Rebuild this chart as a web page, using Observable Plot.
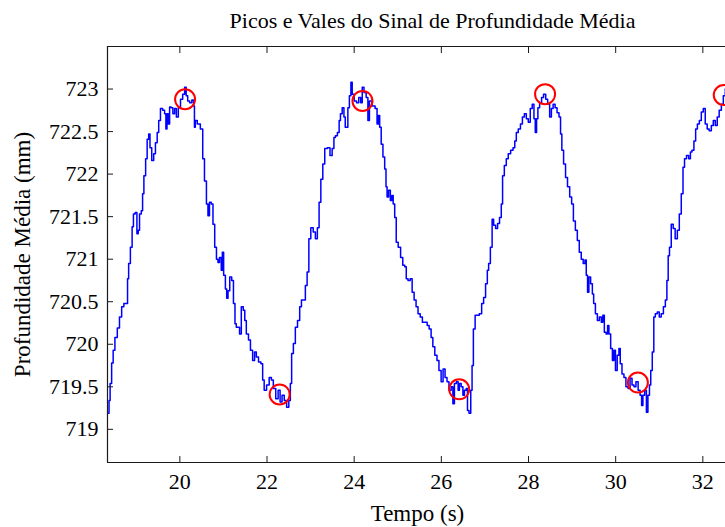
<!DOCTYPE html>
<html>
<head>
<meta charset="utf-8">
<script src="https://cdn.jsdelivr.net/npm/d3@7"></script>
<script src="https://cdn.jsdelivr.net/npm/@observablehq/plot@0.6"></script>
<style>
  html, body { margin: 0; padding: 0; background: #fff; overflow: hidden; }
  svg { display: block; }
</style>
</head>
<body>
<div id="chart"></div>
<script>
// ---- Data ----
const titulo = "Picos e Vales do Sinal de Profundidade Média";
const rotuloX = "Tempo (s)";
const rotuloY = "Profundidade Média (mm)";

const limitesX = [18.34, 32.52];
const limitesY = [718.61, 723.50];
const ticksX = [20, 22, 24, 26, 28, 30, 32];
const ticksY = [719, 719.5, 720, 720.5, 721, 721.5, 722, 722.5, 723];

// Tempo (s)
const tempo = [
  18.36, 18.39, 18.41, 18.46, 18.48, 18.54, 18.59, 18.64, 18.69, 18.74,
  18.79, 18.81, 18.84, 18.89, 18.92, 18.95, 19.00, 19.03, 19.06, 19.09,
  19.14, 19.15, 19.20, 19.23, 19.27, 19.30, 19.33, 19.38, 19.42, 19.46,
  19.50, 19.53, 19.58, 19.63, 19.67, 19.69, 19.72, 19.75, 19.78, 19.82,
  19.86, 19.90, 19.94, 19.99, 20.04, 20.09, 20.13, 20.16, 20.20, 20.25,
  20.30, 20.33, 20.34, 20.37, 20.43, 20.51, 20.54, 20.59, 20.63, 20.66,
  20.70, 20.74, 20.78, 20.82, 20.86, 20.89, 20.93, 20.97, 20.98, 21.03,
  21.06, 21.09, 21.12, 21.17, 21.21, 21.25, 21.28, 21.31, 21.35, 21.39,
  21.43, 21.48, 21.50, 21.55, 21.60, 21.64, 21.70, 21.73, 21.78, 21.83,
  21.89, 21.91, 21.96, 22.02, 22.08, 22.12, 22.17, 22.23, 22.28, 22.32,
  22.37, 22.42, 22.48, 22.52, 22.55, 22.58, 22.63, 22.67, 22.73, 22.77,
  22.81, 22.86, 22.90, 22.94, 22.98, 23.03, 23.09, 23.13, 23.18, 23.21,
  23.26, 23.30, 23.35, 23.42, 23.47, 23.52, 23.55, 23.59, 23.64, 23.67,
  23.70, 23.75, 23.78, 23.81, 23.84, 23.87, 23.91, 23.94, 23.97, 24.03,
  24.08, 24.13, 24.17, 24.20, 24.25, 24.30, 24.33, 24.37, 24.45, 24.51,
  24.54, 24.57, 24.60, 24.64, 24.68, 24.72, 24.74, 24.77, 24.81, 24.85,
  24.88, 24.91, 24.95, 24.98, 25.04, 25.09, 25.14, 25.18, 25.21, 25.26,
  25.31, 25.35, 25.40, 25.44, 25.49, 25.54, 25.59, 25.65, 25.70, 25.74,
  25.79, 25.82, 25.88, 25.92, 25.97, 26.02, 26.06, 26.11, 26.15, 26.20,
  26.25, 26.28, 26.32, 26.37, 26.40, 26.43, 26.48, 26.51, 26.55, 26.59,
  26.61, 26.66, 26.69, 26.72, 26.75, 26.80, 26.84, 26.90, 26.95, 26.99,
  27.04, 27.07, 27.10, 27.15, 27.18, 27.22, 27.27, 27.31, 27.36, 27.39,
  27.42, 27.47, 27.51, 27.56, 27.62, 27.67, 27.70, 27.74, 27.79, 27.84,
  27.88, 27.93, 27.97, 28.02, 28.06, 28.11, 28.14, 28.17, 28.20, 28.23,
  28.28, 28.32, 28.37, 28.42, 28.46, 28.51, 28.54, 28.59, 28.63, 28.68,
  28.72, 28.75, 28.78, 28.83, 28.87, 28.92, 28.97, 29.01, 29.05, 29.10,
  29.14, 29.19, 29.23, 29.28, 29.31, 29.34, 29.37, 29.40, 29.45, 29.48,
  29.51, 29.56, 29.60, 29.65, 29.69, 29.72, 29.76, 29.80, 29.83, 29.86,
  29.91, 29.94, 29.98, 30.01, 30.06, 30.09, 30.12, 30.17, 30.21, 30.26,
  30.31, 30.35, 30.40, 30.44, 30.49, 30.54, 30.58, 30.61, 30.64, 30.69,
  30.72, 30.76, 30.79, 30.82, 30.86, 30.89, 30.93, 30.98, 31.02, 31.07,
  31.12, 31.16, 31.19, 31.22, 31.25, 31.30, 31.34, 31.39, 31.44, 31.48,
  31.53, 31.56, 31.60, 31.65, 31.70, 31.73, 31.77, 31.82, 31.85, 31.90,
  31.94, 31.99, 32.03, 32.08, 32.12, 32.17, 32.22, 32.26, 32.31, 32.35,
  32.40, 32.45, 32.49, 32.54
];

// Profundidade média (mm)
const profundidade = [
  719.19, 719.34, 719.54, 719.78, 719.93, 720.08, 720.19, 720.32, 720.44, 720.48,
  720.48, 720.77, 720.95, 721.14, 721.38, 721.53, 721.55, 721.30, 721.34, 721.53,
  721.57, 721.77, 721.98, 722.18, 722.41, 722.47, 722.31, 722.16, 722.24, 722.37,
  722.49, 722.63, 722.77, 722.75, 722.71, 722.53, 722.71, 722.59, 722.79, 722.78,
  722.71, 722.77, 722.67, 722.78, 722.88, 722.94, 723.02, 722.92, 722.86, 722.84,
  722.87, 722.80, 722.55, 722.63, 722.59, 722.53, 722.18, 721.92, 721.65, 721.51,
  721.67, 721.65, 721.41, 721.14, 721.00, 720.96, 721.02, 720.87, 721.08, 720.81,
  720.65, 720.54, 720.63, 720.79, 720.75, 720.48, 720.24, 720.20, 720.20, 720.12,
  720.44, 720.40, 720.28, 720.12, 720.05, 719.93, 719.81, 719.91, 719.85, 719.79,
  719.77, 719.58, 719.46, 719.52, 719.61, 719.58, 719.48, 719.36, 719.46, 719.32,
  719.40, 719.34, 719.26, 719.34, 719.54, 719.89, 720.01, 720.20, 720.28, 720.44,
  720.52, 720.52, 720.69, 720.85, 721.24, 721.37, 721.32, 721.24, 721.37, 721.67,
  721.94, 722.12, 722.30, 722.31, 722.22, 722.30, 722.43, 722.45, 722.49, 722.63,
  722.71, 722.78, 722.67, 722.55, 722.55, 722.78, 722.92, 723.08, 722.94, 722.86,
  722.84, 722.90, 722.84, 723.02, 722.96, 722.90, 722.63, 722.86, 722.80, 722.77,
  722.59, 722.69, 722.55, 722.35, 722.20, 722.06, 721.85, 721.73, 721.81, 721.69,
  721.75, 721.65, 721.49, 721.20, 721.14, 721.02, 720.93, 720.91, 720.77, 720.75,
  720.77, 720.61, 720.52, 720.44, 720.36, 720.32, 720.26, 720.26, 720.22, 720.18,
  720.08, 719.97, 719.87, 719.81, 719.69, 719.56, 719.71, 719.61, 719.56, 719.46,
  719.50, 719.30, 719.54, 719.56, 719.46, 719.54, 719.50, 719.40, 719.46, 719.48,
  719.22, 719.19, 719.46, 719.75, 720.18, 720.34, 720.34, 720.36, 720.48, 720.55,
  720.71, 720.87, 720.95, 721.14, 721.47, 721.40, 721.36, 721.42, 721.49, 721.65,
  721.98, 722.10, 722.18, 722.24, 722.28, 722.31, 722.39, 722.49, 722.53, 722.59,
  722.67, 722.71, 722.65, 722.61, 722.77, 722.82, 722.65, 722.49, 722.65, 722.78,
  722.84, 722.90, 722.94, 722.88, 722.82, 722.67, 722.77, 722.82, 722.78, 722.72,
  722.67, 722.47, 722.28, 722.12, 721.96, 721.85, 721.73, 721.65, 721.45, 721.34,
  721.22, 721.08, 721.00, 720.95, 720.99, 720.81, 720.61, 720.79, 720.71, 720.59,
  720.48, 720.36, 720.28, 720.32, 720.26, 720.34, 720.14, 720.12, 720.22, 720.12,
  719.95, 719.81, 719.93, 719.69, 719.87, 719.95, 719.77, 719.65, 719.61, 719.50,
  719.48, 719.60, 719.52, 719.50, 719.56, 719.46, 719.40, 719.28, 719.40, 719.46,
  719.20, 719.40, 719.52, 719.69, 719.91, 720.32, 720.36, 720.38, 720.32, 720.36,
  720.44, 720.52, 720.75, 721.04, 721.14, 721.41, 721.36, 721.24, 721.34, 721.53,
  721.77, 722.08, 722.18, 722.22, 722.18, 722.26, 722.28, 722.39, 722.53, 722.59,
  722.63, 722.73, 722.77, 722.59, 722.53, 722.51, 722.57, 722.63, 722.57, 722.67,
  722.75, 722.82, 722.92, 723.00
];

// Picos (peaks) and vales (valleys)
const picosTempo = [20.12, 24.19, 28.38, 32.48];
const picosProf  = [722.88, 722.86, 722.94, 722.93];
const valesTempo = [22.29, 26.41, 30.51];
const valesProf  = [719.41, 719.47, 719.55];

// ---- Tables built from the arrays ----
const n = Math.min(tempo.length, profundidade.length);
const sinal = d3.range(n).map(i => ({t: tempo[i], p: profundidade[i]}));
const extremos = [
  ...picosTempo.map((t, i) => ({t, p: picosProf[i]})),
  ...valesTempo.map((t, i) => ({t, p: valesProf[i]}))
];

const corEixo = "#1a1a1a";
const fonte = '"Liberation Serif", "Times New Roman", serif';

const chart = Plot.plot({
  width: 725,
  height: 527,
  marginTop: 46,
  marginBottom: 65,
  marginLeft: 107,
  marginRight: 0,
  style: {fontFamily: fonte, fontSize: "22px", color: "#000", background: "#fff"},
  x: {domain: limitesX, label: null},
  y: {domain: limitesY, label: null},
  marks: [
    // data
    Plot.line(sinal, {x: "t", y: "p", curve: "step", stroke: "#0000ff", strokeWidth: 1.5, clip: true}),
    Plot.dot(extremos, {x: "t", y: "p", r: 10, stroke: "#ff0000", strokeWidth: 2, fill: "none"}),
    // box
    Plot.ruleY([limitesY[1]], {stroke: corEixo, strokeWidth: 1.2}),
    Plot.ruleY([limitesY[0]], {stroke: corEixo, strokeWidth: 1.2}),
    Plot.ruleX([limitesX[0]], {stroke: corEixo, strokeWidth: 1.2}),
    // axes with inward ticks
    Plot.axisX(ticksX, {anchor: "bottom", tickSize: -6, tickPadding: 17, stroke: corEixo, fill: "#000", tickFormat: d => String(d), label: null}),
    Plot.axisX(ticksX, {anchor: "top", tickSize: -6, stroke: corEixo, tickFormat: () => "", label: null}),
    Plot.axisY(ticksY, {anchor: "left", tickSize: -6, tickPadding: 15, stroke: corEixo, fill: "#000", tickFormat: d => String(d), label: null}),
    // texts
    Plot.text([titulo], {frameAnchor: "top", dx: 16, dy: -26, lineAnchor: "middle", fontSize: 22, fill: "#000"}),
    Plot.text([rotuloX], {frameAnchor: "bottom", dx: 1, dy: 51, lineAnchor: "middle", fontSize: 23, fill: "#000"}),
    Plot.text([rotuloY], {frameAnchor: "left", dx: -85, rotate: -90, lineAnchor: "middle", textAnchor: "middle", fontSize: 23, fill: "#000"})
  ]
});

document.getElementById("chart").appendChild(chart);
</script>
</body>
</html>
